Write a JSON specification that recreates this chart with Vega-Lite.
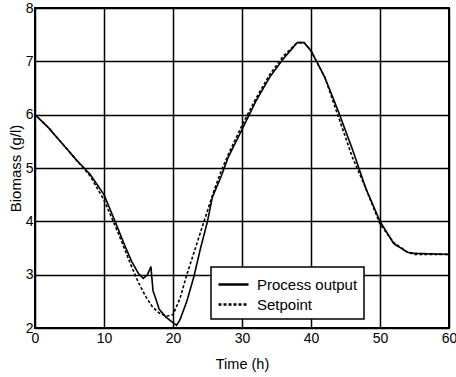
{
  "$schema": "https://vega.github.io/schema/vega-lite/v6.json",
  "autosize": "none",
  "width": 414,
  "height": 320,
  "padding": {"left": 35, "top": 8, "right": 7, "bottom": 49},
  "background": "white",
  "config": {
    "font": "Liberation Sans",
    "view": {"stroke": "black", "strokeWidth": 2},
    "legend": {"strokeWidth": 1.5}
  },
  "data": {"values": [
    {"t":0,"v":6.0,"s":"Process output"},{"t":2,"v":5.75,"s":"Process output"},{"t":4,"v":5.45,"s":"Process output"},{"t":6,"v":5.15,"s":"Process output"},{"t":8,"v":4.88,"s":"Process output"},{"t":10,"v":4.5,"s":"Process output"},{"t":11.6,"v":4.0,"s":"Process output"},{"t":13,"v":3.55,"s":"Process output"},{"t":14,"v":3.25,"s":"Process output"},{"t":15,"v":3.02,"s":"Process output"},{"t":15.7,"v":2.93,"s":"Process output"},{"t":16.3,"v":3.0,"s":"Process output"},{"t":16.8,"v":3.15,"s":"Process output"},{"t":17.1,"v":2.7,"s":"Process output"},{"t":17.5,"v":2.55,"s":"Process output"},{"t":18,"v":2.35,"s":"Process output"},{"t":19,"v":2.2,"s":"Process output"},{"t":20,"v":2.1,"s":"Process output"},{"t":20.5,"v":2.05,"s":"Process output"},{"t":21,"v":2.15,"s":"Process output"},{"t":22,"v":2.5,"s":"Process output"},{"t":23,"v":2.95,"s":"Process output"},{"t":24,"v":3.5,"s":"Process output"},{"t":25,"v":4.0,"s":"Process output"},{"t":25.7,"v":4.45,"s":"Process output"},{"t":27,"v":4.85,"s":"Process output"},{"t":28,"v":5.2,"s":"Process output"},{"t":30,"v":5.72,"s":"Process output"},{"t":32,"v":6.25,"s":"Process output"},{"t":34,"v":6.7,"s":"Process output"},{"t":36,"v":7.05,"s":"Process output"},{"t":38,"v":7.35,"s":"Process output"},{"t":39,"v":7.35,"s":"Process output"},{"t":40,"v":7.2,"s":"Process output"},{"t":42,"v":6.7,"s":"Process output"},{"t":44,"v":6.05,"s":"Process output"},{"t":46,"v":5.35,"s":"Process output"},{"t":48,"v":4.6,"s":"Process output"},{"t":50,"v":4.0,"s":"Process output"},{"t":52,"v":3.58,"s":"Process output"},{"t":54,"v":3.42,"s":"Process output"},{"t":55,"v":3.4,"s":"Process output"},{"t":60,"v":3.38,"s":"Process output"},
    {"t":0,"v":6.0,"s":"Setpoint"},{"t":2,"v":5.75,"s":"Setpoint"},{"t":4,"v":5.45,"s":"Setpoint"},{"t":6,"v":5.15,"s":"Setpoint"},{"t":8,"v":4.85,"s":"Setpoint"},{"t":10,"v":4.4,"s":"Setpoint"},{"t":12,"v":3.8,"s":"Setpoint"},{"t":14,"v":3.15,"s":"Setpoint"},{"t":15,"v":2.85,"s":"Setpoint"},{"t":16,"v":2.6,"s":"Setpoint"},{"t":17,"v":2.4,"s":"Setpoint"},{"t":18,"v":2.28,"s":"Setpoint"},{"t":19,"v":2.22,"s":"Setpoint"},{"t":20,"v":2.25,"s":"Setpoint"},{"t":21,"v":2.55,"s":"Setpoint"},{"t":22,"v":3.0,"s":"Setpoint"},{"t":23,"v":3.4,"s":"Setpoint"},{"t":24,"v":3.8,"s":"Setpoint"},{"t":25,"v":4.2,"s":"Setpoint"},{"t":26,"v":4.6,"s":"Setpoint"},{"t":27,"v":4.95,"s":"Setpoint"},{"t":28,"v":5.25,"s":"Setpoint"},{"t":30,"v":5.8,"s":"Setpoint"},{"t":32,"v":6.3,"s":"Setpoint"},{"t":34,"v":6.75,"s":"Setpoint"},{"t":36,"v":7.1,"s":"Setpoint"},{"t":38,"v":7.35,"s":"Setpoint"},{"t":39,"v":7.35,"s":"Setpoint"},{"t":40,"v":7.2,"s":"Setpoint"},{"t":42,"v":6.7,"s":"Setpoint"},{"t":44,"v":5.95,"s":"Setpoint"},{"t":46,"v":5.2,"s":"Setpoint"},{"t":48,"v":4.6,"s":"Setpoint"},{"t":50,"v":3.95,"s":"Setpoint"},{"t":52,"v":3.6,"s":"Setpoint"},{"t":54,"v":3.42,"s":"Setpoint"},{"t":55,"v":3.38,"s":"Setpoint"},{"t":60,"v":3.38,"s":"Setpoint"}
  ]},
  "mark": {"type": "line", "strokeWidth": 1.6, "color": "black"},
  "encoding": {
    "x": {
      "field": "t", "type": "quantitative",
      "scale": {"domain": [0, 60], "nice": false},
      "axis": {
        "title": "Time (h)", "values": [0,10,20,30,40,50,60],
        "grid": true, "gridColor": "black", "gridOpacity": 1, "gridWidth": 1.5,
        "domain": false, "ticks": false, "labelPadding": 3,
        "labelFontSize": 14, "labelColor": "black", "labelFlush": false,
        "titleFontSize": 14.5, "titleFontWeight": "normal", "titleColor": "black", "titlePadding": 12
      }
    },
    "y": {
      "field": "v", "type": "quantitative",
      "scale": {"domain": [2, 8], "nice": false, "zero": false},
      "axis": {
        "title": "Biomass (g/l)", "values": [2,3,4,5,6,7,8],
        "grid": true, "gridColor": "black", "gridOpacity": 1, "gridWidth": 1.5,
        "domain": false, "ticks": false, "labelPadding": 2,
        "labelFontSize": 14, "labelColor": "black", "labelFlush": false,
        "titleFontSize": 15, "titleFontWeight": "normal", "titleColor": "black", "titlePadding": 2
      }
    },
    "strokeDash": {
      "field": "s", "type": "nominal",
      "scale": {"domain": ["Process output", "Setpoint"], "range": [[1, 0], [3, 2]]},
      "legend": {
        "title": null, "orient": "none", "legendX": 176, "legendY": 259,
        "strokeColor": "black", "fillColor": "white",
        "padding": 6, "symbolType": "M-1,0H2", "symbolSize": 400, "symbolStrokeWidth": 2.5,
        "symbolStrokeColor": "black", "labelOffset": 17,
        "labelFontSize": 15, "labelColor": "black", "rowPadding": 0
      }
    }
  }
}
